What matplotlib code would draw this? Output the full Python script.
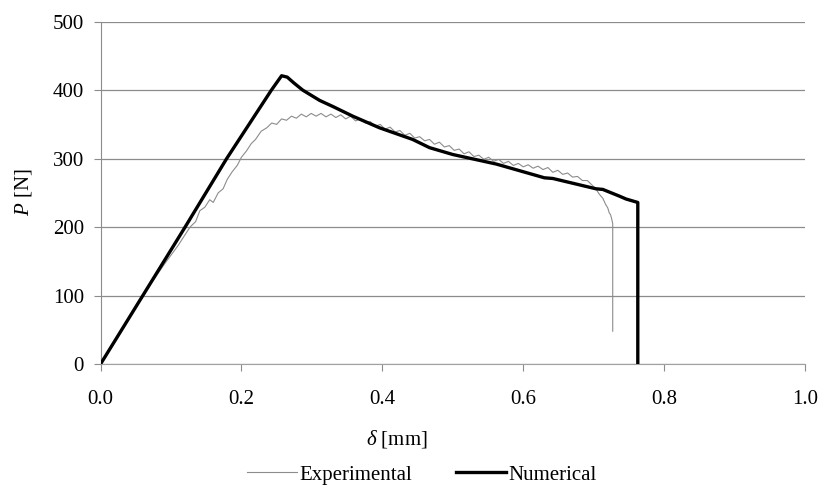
import matplotlib
matplotlib.use("Agg")
import matplotlib.pyplot as plt
import numpy as np

plt.rcParams["font.family"] = ["Liberation Serif", "DejaVu Serif"]
plt.rcParams["mathtext.fontset"] = "custom"
plt.rcParams["mathtext.it"] = "Liberation Serif:italic"
plt.rcParams["mathtext.rm"] = "Liberation Serif"

# 실험 데이터 (picture에서 읽은 값)
exp_x = [0, 0.03, 0.06, 0.09, 0.11, 0.127, 0.135, 0.141, 0.148, 0.155, 0.16,
         0.167, 0.174, 0.18, 0.187, 0.194, 0.2, 0.207, 0.214, 0.22, 0.228,
         0.236, 0.243, 0.25, 0.257, 0.264, 0.271, 0.278, 0.285, 0.292, 0.299,
         0.306, 0.313, 0.32, 0.327, 0.334, 0.341, 0.348, 0.355, 0.362, 0.369,
         0.376, 0.383, 0.39, 0.397, 0.404, 0.411, 0.418, 0.425, 0.432, 0.439,
         0.446, 0.453, 0.46, 0.467, 0.474, 0.481, 0.488, 0.495, 0.502, 0.509,
         0.516, 0.523, 0.53, 0.537, 0.544, 0.551, 0.558, 0.565, 0.572, 0.579,
         0.586, 0.593, 0.6, 0.607, 0.614, 0.621, 0.628, 0.635, 0.642, 0.649,
         0.656, 0.663, 0.67, 0.677, 0.684, 0.691, 0.698, 0.703, 0.708, 0.713,
         0.717, 0.72, 0.722, 0.724, 0.726, 0.727, 0.727]
exp_y = [0, 50, 100, 145, 173, 200, 208, 224, 229, 240, 236,
         250, 256, 270, 281, 290, 302, 311, 322, 328, 340,
         345, 352, 350, 358, 356, 362, 359, 365, 361, 366,
         362, 366, 361, 365, 360, 364, 358, 362, 355, 358,
         352, 354, 347, 350, 343, 346, 339, 341, 334, 337,
         330, 332, 326, 328, 321, 324, 317, 319, 312, 314,
         307, 310, 303, 305, 299, 302, 296, 299, 293, 296,
         290, 293, 288, 291, 286, 289, 284, 287, 280, 283,
         277, 279, 273, 274, 268, 268, 261, 256, 248, 242,
         233, 228, 221, 218, 210, 205, 48]

# 수치 해석 결과
num_x = [0, 0.06, 0.12, 0.179, 0.2425, 0.257, 0.265, 0.275, 0.287, 0.311,
         0.330, 0.358, 0.396, 0.443, 0.467, 0.500, 0.562, 0.630, 0.642, 0.703,
         0.713, 0.737, 0.746, 0.7626, 0.7626]
num_y = [0, 100, 200, 300, 400, 421, 419, 410, 400, 385,
         376, 362, 345, 328, 316, 306, 292, 272, 271, 256,
         255, 245, 241, 236, 0]

x_ticks = [0.0, 0.2, 0.4, 0.6, 0.8, 1.0]
y_ticks = [0, 100, 200, 300, 400, 500]

fig = plt.figure(figsize=(8.24, 4.92), dpi=100)
ax = fig.add_axes([0.122, 0.26, 0.855, 0.696])

ax.plot(exp_x, exp_y, color="#8c8c8c", lw=0.8, label="Experimental", zorder=3)
ax.plot(num_x, num_y, color="black", lw=2.4, label="Numerical", zorder=4)

ax.set_xlim(0, 1.0)
ax.set_ylim(0, 500)
ax.set_xticks(x_ticks)
ax.set_xticklabels(["%.1f" % t for t in x_ticks])
ax.set_yticks(y_ticks)

ax.yaxis.grid(True, color="#8c8c8c", lw=0.9)
ax.set_axisbelow(True)
for s in ["top", "right"]:
    ax.spines[s].set_visible(False)
ax.spines["left"].set_color("#8c8c8c")
ax.spines["bottom"].set_color("#a0a0a0")
ax.tick_params(axis="both", colors="#8c8c8c", labelcolor="black",
               labelsize=15, length=5, direction="out")
ax.tick_params(axis="x", pad=14)
ax.tick_params(axis="y", pad=7)

fig.text(0.028, 0.61, "$P$ [N]", fontsize=15, rotation=90, ha="center", va="center")
fig.text(0.482, 0.108, r"$\delta$ [mm]", fontsize=15, ha="center", va="center")

fig.legend(loc="center", bbox_to_anchor=(0.512, 0.035), ncol=2, frameon=False,
           fontsize=15, handlelength=2.4, columnspacing=2.1, handletextpad=0.1)

fig.savefig("out.png", dpi=100)
